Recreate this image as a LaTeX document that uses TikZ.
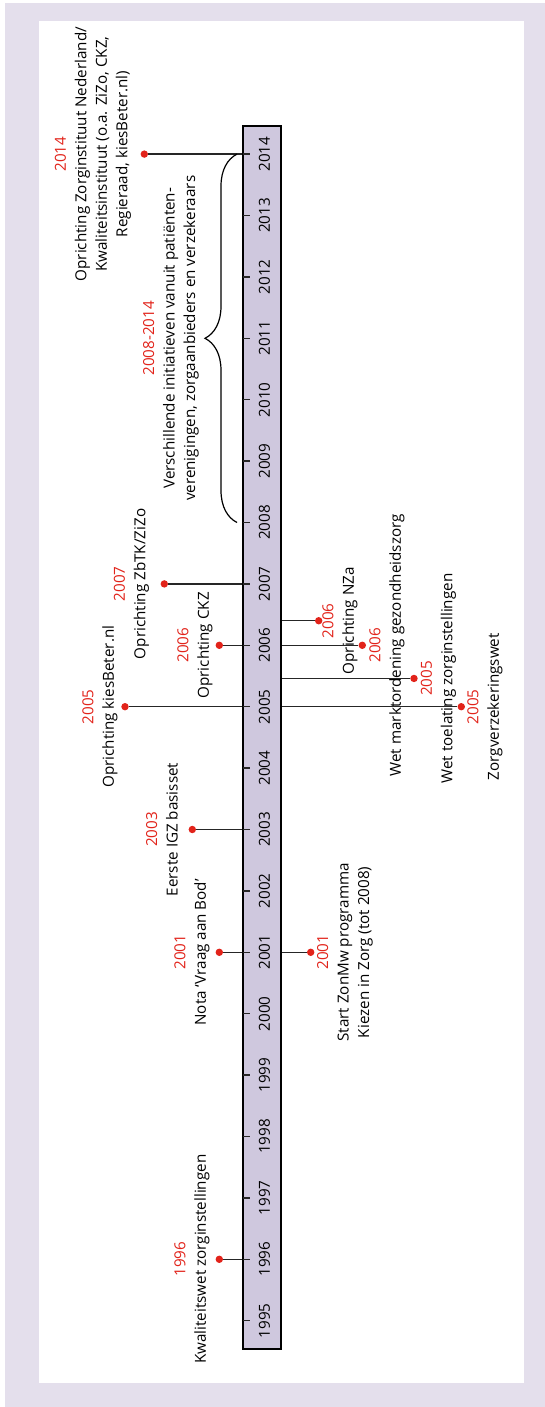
\documentclass[tikz,border=0pt]{standalone}
\usepackage{fontspec}
\setmainfont{Open Sans}
\usetikzlibrary{positioning, decorations.pathreplacing}

\definecolor{framelilac}{HTML}{E4DFEC}
\definecolor{barlilac}{HTML}{CFC8DE}
\definecolor{yearred}{HTML}{E2231A}

\tikzset{
  evdot/.style={circle, fill=yearred, inner sep=0pt, minimum size=3.7pt},
  evline/.style={line width=0.7pt, black!85},
  evlabel/.style={rotate=90, align=center, inner sep=0pt},
  yearlabel/.style={rotate=90, inner sep=0pt},
}
\newcommand{\yr}[1]{\textcolor{yearred}{#1}}

\begin{document}
\begin{tikzpicture}[x=0.5pt, y=30.7pt, % one y unit is one year, 1995 at 0
  every node/.style={font=\fontsize{7.6}{10.25}\selectfont}]

  \useasboundingbox (0,-1.4055) rectangle (545,21.51);

  % Frame
  \fill[framelilac] (5,-1.4055) rectangle (545,21.461);
  \fill[white] (39,-1.0147) rectangle (524,21.168);

  % Time bar
  \node[draw, line width=0.8pt, fill=barlilac, inner sep=0pt,
    minimum width=19pt, minimum height=611.5pt] (bar) at (262,9.5) {};
  \foreach \y in {1995,...,2014} {
    \coordinate (y\y) at (243,\y-1995);
    \draw[evline] (y\y) -- ++(6.5,0);
    \node[yearlabel] (t\y) at (264.5,\y-1995) {\y};
  }

  % Events left of the bar
  \node[evdot] (e14) at (144.3,19) {};
  \draw[evline] (e14) -- (e14 -| bar.west);
  \node[evlabel] (l14) at (93,19) {\yr{2014}\\Oprichting Zorginstituut Nederland/\\Kwaliteitsinstituut (o.a. ZiZo, CKZ,\\Regieraad, kiesBeter.nl)};

  \node[evdot] (e07) at (164.3,12) {};
  \draw[evline] (e07) -- (e07 -| bar.west);
  \node[evlabel] (l07) at (131.5,12) {\yr{2007}\\Oprichting ZbTK/ZiZo};

  \node[evdot] (e06) at (219.3,11) {};
  \draw[evline] (e06) -- (e06 -| bar.west);
  \node[evlabel] (l06) at (195,11) {\yr{2006}\\Oprichting CKZ};

  \node[evdot] (e05) at (125,10) {};
  \draw[evline] (e05) -- (e05 -| bar.west);
  \node[evlabel] (l05) at (100,10) {\yr{2005}\\Oprichting kiesBeter.nl};

  \node[evdot] (e03) at (192.3,8) {};
  \draw[evline] (e03) -- (e03 -| bar.west);
  \node[evlabel] (l03) at (162,8) {\yr{2003}\\Eerste IGZ basisset};

  \node[evdot] (e01) at (219.3,6) {};
  \draw[evline] (e01) -- (e01 -| bar.west);
  \node[evlabel] (l01) at (192,6) {\yr{2001}\\Nota ‘Vraag aan Bod’};

  \node[evdot] (e96) at (219.3,1) {};
  \draw[evline] (e96) -- (e96 -| bar.west);
  \node[evlabel] (l96) at (192,1) {\yr{1996}\\Kwaliteitswet zorginstellingen};

  % Brace 2008-2014
  \draw[line width=0.6pt, decorate, decoration={brace, amplitude=16pt}] (237,13) -- (237,19);
  \node[evlabel] (lbr) at (171,16) {\yr{2008-2014}\\Verschillende initiatieven vanuit patiënten-\\verenigingen, zorgaanbieders en verzekeraars};

  % Events right of the bar
  \node[evdot] (r06a) at (318.7,11.4) {};
  \draw[evline] (r06a) -- (r06a -| bar.east);
  \node[evlabel] (m06a) at (340,11.4) {\yr{2006}\\Oprichting NZa};

  \node[evdot] (r06b) at (362.3,11) {};
  \draw[evline] (r06b) -- (r06b -| bar.east);
  \node[evlabel] (m06b) at (387,11) {\yr{2006}\\Wet marktordening gezondheidszorg};

  \node[evdot] (r05a) at (414,10.46) {};
  \draw[evline] (r05a) -- (r05a -| bar.east);
  \node[evlabel] (m05a) at (438.5,10.46) {\yr{2005}\\Wet toelating zorginstellingen};

  \node[evdot] (r05b) at (461.3,10) {};
  \draw[evline] (r05b) -- (r05b -| bar.east);
  \node[evlabel] (m05b) at (485,10) {\yr{2005}\\Zorgverzekeringswet};

  \node[evdot] (r01) at (310.7,6) {};
  \draw[evline] (r01) -- (r01 -| bar.east);
  \node[evlabel] (m01) at (345,6) {\yr{2001}\\Start ZonMw programma\\Kiezen in Zorg (tot 2008)};
\end{tikzpicture}
\end{document}
